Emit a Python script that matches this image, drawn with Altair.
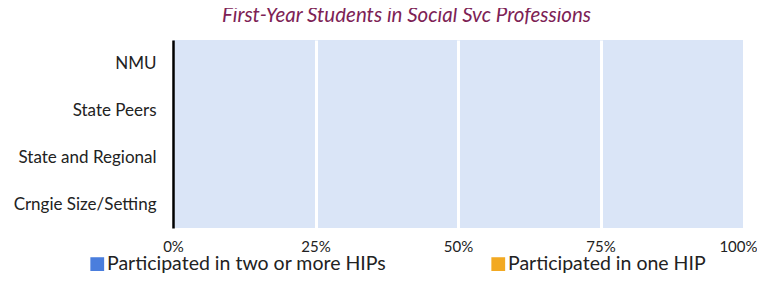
import altair as alt
import pandas as pd

categories = ["NMU", "State Peers", "State and Regional", "Crngie Size/Setting"]
series = ["Participated in two or more HIPs", "Participated in one HIP"]
two_or_more = [0, 0, 0, 0]
one_hip = [0, 0, 0, 0]
x_ticks = [0, 0.25, 0.5, 0.75, 1.0]
colors = ["#4A7EDD", "#F2A922"]

rows = []
for c, a, b in zip(categories, two_or_more, one_hip):
    rows.append({"cat": c, "series": series[0], "value": a, "ord": 0})
    rows.append({"cat": c, "series": series[1], "value": b, "ord": 1})
df = pd.DataFrame(rows)

FONT = "Lato"

chart = alt.Chart(df).mark_bar(size=28).encode(
    y=alt.Y("cat:N", sort=categories, title=None,
            axis=alt.Axis(domainColor="black", domainWidth=2.5, ticks=False,
                          labelFontSize=17, labelPadding=17, labelColor="#222222",
                          labelFont=FONT, grid=False)),
    x=alt.X("value:Q", stack="zero", scale=alt.Scale(domain=[0, 1], nice=False), title=None,
            axis=alt.Axis(values=x_ticks, format=".0%", domain=False, ticks=False, grid=True,
                          gridColor="white", gridWidth=3,
                          gridOpacity={"expr": "datum.value > 0 && datum.value < 1 ? 1 : 0"},
                          labelAlign={"expr": "datum.value == 1 ? 'right' : 'center'"},
                          labelOffset={"expr": "datum.value == 1 ? 14 : 0"},
                          labelPadding=11, labelFontSize=15, labelFont=FONT,
                          labelColor="#222222", labelFlush=False)),
    color=alt.Color("series:N", sort=series, scale=alt.Scale(domain=series, range=colors),
                    legend=alt.Legend(title=None, orient="none", legendX=-85.5, legendY=214,
                                      direction="horizontal", symbolType="square",
                                      symbolSize=190, symbolStrokeWidth=0, labelFontSize=19.5,
                                      labelFont=FONT, labelColor="#222222", labelLimit=500,
                                      columnPadding=102, labelOffset=0)),
    order=alt.Order("ord:Q"),
).properties(
    width=570, height=188,
    title=alt.TitleParams("First-Year Students in Social Svc Professions", anchor="start",
                          frame="group", dx=49, fontStyle="italic", fontSize=20.5,
                          color="#7D2255", font=FONT, fontWeight="normal", offset=14),
    autosize="none",
    padding={"left": 165, "top": 32, "right": 14, "bottom": 45},
).configure_view(fill="#DAE5F7", stroke=None)

chart.save("out.html", embed_options={"renderer": "svg", "actions": False})
